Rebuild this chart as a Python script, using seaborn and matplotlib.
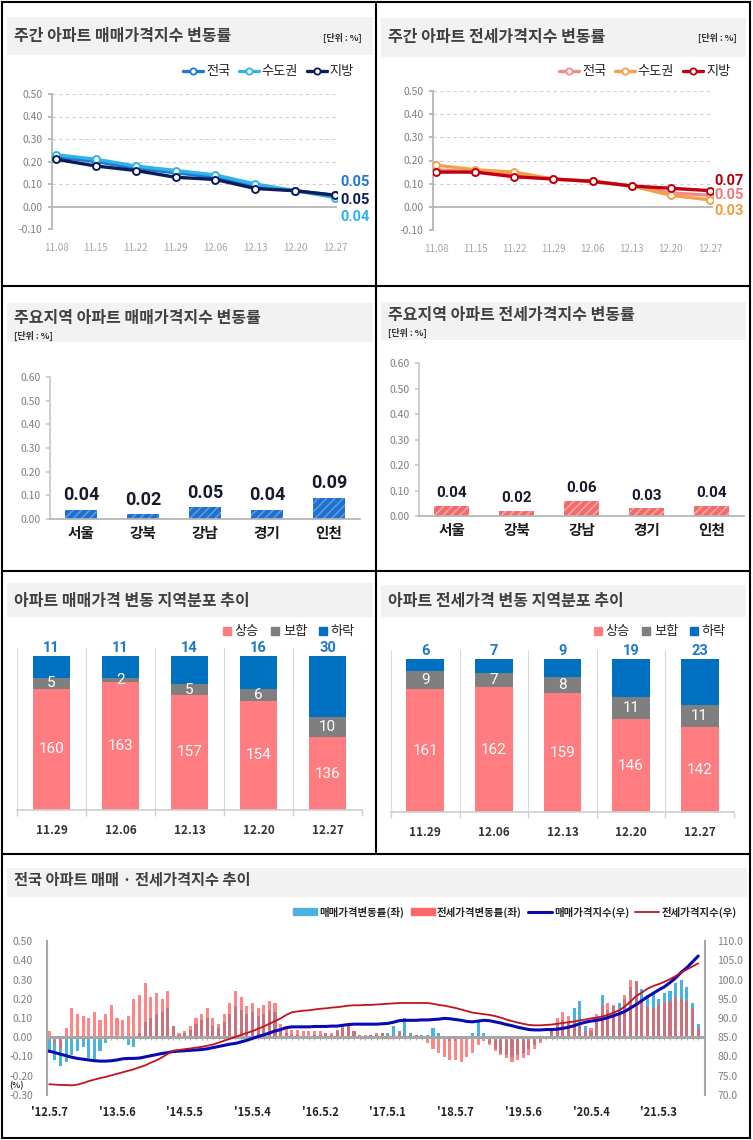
import numpy as np
import pandas as pd
import matplotlib
matplotlib.use('Agg')
import matplotlib.pyplot as plt
import seaborn as sns
from matplotlib.lines import Line2D
from matplotlib.patches import Rectangle, Patch

sns.set_theme(style='white')
plt.rcParams['font.family'] = ['Noto Sans CJK KR', 'DejaVu Sans']
plt.rcParams['hatch.linewidth'] = 1.2
plt.rcParams['axes.unicode_minus'] = False

W, H = 753, 1140
NARROW = dict(family=['Roboto', 'DejaVu Sans'])

# ---- data ----
weeks = ['11.08', '11.15', '11.22', '11.29', '12.06', '12.13', '12.20', '12.27']
sale_regions = ['전국', '수도권', '지방']
sale_nation = [0.22, 0.20, 0.17, 0.15, 0.13, 0.09, 0.07, 0.05]
sale_metro = [0.23, 0.21, 0.18, 0.16, 0.14, 0.10, 0.07, 0.04]
sale_local = [0.21, 0.18, 0.16, 0.13, 0.12, 0.08, 0.07, 0.05]
jeonse_nation = [0.16, 0.15, 0.14, 0.12, 0.11, 0.09, 0.06, 0.05]
jeonse_metro = [0.18, 0.16, 0.15, 0.12, 0.11, 0.09, 0.05, 0.03]
jeonse_local = [0.15, 0.15, 0.13, 0.12, 0.11, 0.09, 0.08, 0.07]

areas = ['서울', '강북', '강남', '경기', '인천']
area_sale = [0.04, 0.02, 0.05, 0.04, 0.09]
area_jeonse = [0.04, 0.02, 0.06, 0.03, 0.04]

dist_weeks = ['11.29', '12.06', '12.13', '12.20', '12.27']
dist_base = 100  # the distribution charts' value axis starts at 100 regions
sale_up = [160, 163, 157, 154, 136]
sale_flat = [5, 2, 5, 6, 10]
sale_down = [11, 11, 14, 16, 30]
jeonse_up = [161, 162, 159, 146, 142]
jeonse_flat = [9, 7, 8, 11, 11]
jeonse_down = [6, 7, 9, 19, 23]

# monthly series, 2012.5 ~ 2021.12
year_ticks = ["'12.5.7", "'13.5.6", "'14.5.5", "'15.5.4", "'16.5.2",
              "'17.5.1", "'18.5.7", "'19.5.6", "'20.5.4", "'21.5.3"]
sale_chg = [-0.08, -0.12, -0.15, -0.13, -0.09, -0.07, -0.05, -0.11, -0.12, -0.07, -0.03, -0.01,
            0.00, 0.00, -0.04, -0.05, 0.02, 0.08, 0.10, 0.12, 0.13, 0.15, 0.06, 0.01,
            0.02, 0.04, 0.07, 0.09, 0.10, 0.06, 0.05, 0.08, 0.12, 0.16, 0.14, 0.12,
            0.13, 0.11, 0.12, 0.14, 0.13, 0.04, 0.02, 0.01, 0.01, 0.00, -0.01, 0.01,
            0.01, 0.02, 0.01, 0.03, 0.05, 0.07, 0.03, 0.01, 0.00, 0.01, 0.01, 0.02,
            0.02, 0.06, 0.03, 0.10, 0.02, 0.01, 0.01, 0.01, 0.05, 0.02, -0.01, -0.02,
            -0.02, -0.01, -0.01, 0.02, 0.08, 0.02, -0.03, -0.06, -0.08, -0.09, -0.10, -0.09,
            -0.08, -0.06, -0.04, -0.02, 0.00, 0.04, 0.07, 0.09, 0.08, 0.15, 0.19, 0.06,
            0.03, 0.10, 0.22, 0.14, 0.16, 0.18, 0.20, 0.26, 0.29, 0.25, 0.22, 0.23,
            0.20, 0.23, 0.24, 0.28, 0.30, 0.26, 0.18, 0.07]
jeonse_chg = [0.03, -0.03, -0.06, 0.05, 0.15, 0.12, 0.11, 0.10, 0.13, 0.09, 0.12, 0.17,
              0.10, 0.09, 0.11, 0.20, 0.22, 0.28, 0.21, 0.23, 0.20, 0.24, 0.06, 0.02,
              0.03, 0.06, 0.10, 0.12, 0.15, 0.10, 0.07, 0.12, 0.18, 0.24, 0.21, 0.16,
              0.18, 0.15, 0.17, 0.19, 0.18, 0.07, 0.05, 0.04, 0.04, 0.03, 0.03, 0.03,
              0.03, 0.02, 0.02, 0.04, 0.06, 0.06, 0.03, 0.01, 0.01, 0.01, 0.02, 0.02,
              0.01, 0.01, 0.02, 0.01, 0.01, 0.01, -0.01, -0.03, -0.06, -0.08, -0.10, -0.12,
              -0.12, -0.13, -0.10, -0.08, -0.04, -0.02, -0.04, -0.07, -0.09, -0.11, -0.13, -0.12,
              -0.11, -0.09, -0.06, -0.03, -0.01, 0.05, 0.10, 0.13, 0.11, 0.08, 0.06, 0.03,
              0.05, 0.12, 0.16, 0.18, 0.17, 0.13, 0.22, 0.30, 0.29, 0.20, 0.16, 0.15,
              0.17, 0.18, 0.19, 0.21, 0.20, 0.19, 0.15, 0.05]
sale_idx = [81.4, 81.0, 80.6, 80.2, 79.8, 79.5, 79.3, 79.1, 78.9, 78.8, 78.8, 78.9,
            79.1, 79.4, 79.5, 79.5, 79.6, 79.9, 80.2, 80.5, 80.8, 81.0, 81.3, 81.4,
            81.5, 81.6, 81.7, 81.8, 82.0, 82.3, 82.6, 82.9, 83.2, 83.4, 83.8, 84.2,
            84.7, 85.2, 85.6, 86.1, 86.6, 87.0, 87.5, 87.7, 87.7, 87.7, 87.7, 87.8,
            87.8, 87.8, 87.9, 87.9, 88.1, 88.3, 88.4, 88.4, 88.4, 88.4, 88.4, 88.5,
            88.6, 88.9, 89.3, 89.4, 89.4, 89.4, 89.5, 89.5, 89.6, 89.7, 89.9, 89.8,
            89.6, 89.4, 89.1, 89.0, 89.2, 89.4, 89.3, 89.0, 88.7, 88.3, 88.0, 87.6,
            87.3, 87.0, 86.9, 86.9, 87.0, 87.0, 87.1, 87.3, 87.6, 88.0, 88.5, 88.9,
            89.2, 89.4, 89.7, 90.1, 90.6, 91.1, 91.7, 92.6, 93.5, 94.5, 95.5, 96.4,
            97.3, 98.1, 99.2, 100.4, 101.9, 103.1, 104.6, 106.1]
jeonse_idx = [72.8, 72.7, 72.6, 72.6, 72.5, 72.7, 73.1, 73.6, 74.0, 74.4, 74.7, 75.1,
              75.5, 75.9, 76.3, 76.7, 77.2, 77.7, 78.4, 79.0, 79.8, 80.7, 81.5, 81.7,
              81.9, 82.1, 82.3, 82.5, 82.8, 83.1, 83.6, 84.1, 84.6, 85.1, 85.6, 86.1,
              86.6, 87.2, 87.8, 88.5, 89.2, 89.9, 90.8, 91.5, 91.7, 91.9, 92.0, 92.2,
              92.4, 92.5, 92.7, 92.8, 93.0, 93.2, 93.3, 93.3, 93.4, 93.4, 93.5, 93.6,
              93.7, 93.8, 93.9, 93.9, 93.9, 93.9, 93.9, 93.9, 93.7, 93.4, 93.2, 92.9,
              92.6, 92.2, 91.8, 91.4, 91.2, 91.0, 90.8, 90.5, 90.1, 89.6, 89.2, 88.8,
              88.5, 88.2, 88.1, 88.1, 88.2, 88.3, 88.5, 88.7, 88.9, 89.1, 89.4, 89.6,
              89.9, 90.1, 90.4, 90.8, 91.4, 92.0, 93.0, 94.3, 95.7, 96.6, 97.6, 98.3,
              98.8, 99.4, 100.1, 100.9, 101.8, 102.6, 103.4, 104.2]

fig = plt.figure(figsize=(W / 100, H / 100), dpi=100)


def add_ax(l, t, r, b):
    ax = fig.add_axes([l / W, 1 - b / H, (r - l) / W, (b - t) / H])
    ax.set_facecolor('none')
    for s in ax.spines.values():
        s.set_visible(False)
    return ax


def ftext(x, y, s, **kw):
    return fig.text(x / W, 1 - y / H, s, **kw)


def title_bar(l, t, r, b, title, tx, ty, size=11.5):
    fig.add_artist(Rectangle((l / W, 1 - b / H), (r - l) / W, (b - t) / H,
                             transform=fig.transFigure, facecolor='#f2f2f2',
                             edgecolor='none', zorder=0))
    ftext(tx, ty, title, fontsize=size, fontweight='bold', color='#404040',
          ha='left', va='center')


def unit(x, y, ha):
    ftext(x, y, '[단위 : %]', fontsize=6.5, fontweight='bold', color='#333333',
          ha=ha, va='center')


def border(x0, y0, x1, y1):
    fig.add_artist(Line2D([x0 / W, x1 / W], [1 - y0 / H, 1 - y1 / H],
                          transform=fig.transFigure, color='black', lw=1.5))


# ---- weekly line panels ----
def weekly_panel(box, xlim, values, colors, lab_colors, offsets, legend_xy):
    ax = add_ax(*box)
    pos = np.arange(len(weeks))
    for vals, c in zip(values, colors):
        sns.lineplot(x=pos, y=vals, color=c, marker='o', markersize=5,
                     markerfacecolor='white', markeredgecolor=c,
                     markeredgewidth=1.4, linewidth=2.4, ax=ax, zorder=3)
    for vals, c, (dx, dy) in zip(values, lab_colors, offsets):
        ax.annotate(f'{vals[-1]:.2f}', xy=(pos[-1], vals[-1]), xytext=(dx, dy),
                    textcoords='offset pixels', ha='left', va='center',
                    fontsize=10.5, fontweight='bold', color=c, annotation_clip=False,
                    **NARROW)
    yt = [-0.1, 0, 0.1, 0.2, 0.3, 0.4, 0.5]
    ax.set_ylim(-0.1, 0.5)
    ax.set_xlim(*xlim)
    ax.set_yticks(yt)
    ax.set_yticklabels([f'{v:.2f}' for v in yt])
    ax.set_xticks(pos)
    ax.set_xticklabels(weeks)
    for v in yt:
        if v == 0:
            ax.axhline(0, color='#b4b4b4', lw=1.3, zorder=1)
        else:
            ax.axhline(v, color='#cfcfcf', lw=0.8, ls=(0, (3, 3)), zorder=1)
    ax.spines['left'].set_visible(True)
    ax.spines['left'].set_color('#b4b4b4')
    ax.tick_params(axis='y', left=True, length=3, color='#b4b4b4', pad=4,
                   labelsize=7.5, labelcolor='#7f7f7f')
    ax.tick_params(axis='x', length=0, pad=10, labelsize=7, labelcolor='#a6a6a6')
    ax.set_xlabel('')
    ax.set_ylabel('')
    handles = [Line2D([], [], color=c, lw=2.4, marker='o', markersize=4.5,
                      markerfacecolor='white', markeredgecolor=c, markeredgewidth=1.3)
               for c in colors]
    fig.legend(handles, sale_regions, loc='center right',
               bbox_to_anchor=(legend_xy[0] / W, 1 - legend_xy[1] / H),
               ncol=3, frameon=False, fontsize=9.5, handlelength=1.5,
               handletextpad=0.2, columnspacing=0.7)
    return ax


title_bar(7, 17, 373, 55, '주간 아파트 매매가격지수 변동률', 14, 36)
unit(362, 38, 'right')
weekly_panel((52, 94, 337, 229), (-0.1, 7.05),
             [sale_nation, sale_metro, sale_local],
             ['#1f78cc', '#2fb3e8', '#0b1b5c'],
             ['#1f78cc', '#2fb3e8', '#0b1b5c'],
             [(5, 13), (5, -19), (5, -5)], (366, 72))

title_bar(381, 18, 746, 57, '주간 아파트 전세가격지수 변동률', 388, 37)
unit(737, 38, 'right')
weekly_panel((433, 91, 713, 230), (-0.08, 7.08),
             [jeonse_nation, jeonse_metro, jeonse_local],
             ['#f28b8b', '#f3a04c', '#c00010'],
             ['#f07a7a', '#f0a040', '#b00010'],
             [(5, 0), (5, -11), (5, 10)], (742, 72))


# ---- major area bar panels ----
def area_panel(box, values, color, hatch_color, lab_size):
    ax = add_ax(*box)
    sns.barplot(x=areas, y=values, color=color, saturation=1, width=0.53,
                hatch='////', edgecolor=hatch_color, linewidth=0, ax=ax)
    ax.bar_label(ax.containers[0], labels=[f'{v:.2f}' for v in values], padding=4,
                 fontsize=lab_size, fontweight='bold', color='#161a2a', **NARROW)
    ax.set_ylim(0, 0.6)
    ax.set_xlim(-0.5, 4.5)
    yt = [0, 0.1, 0.2, 0.3, 0.4, 0.5, 0.6]
    ax.set_yticks(yt)
    ax.set_yticklabels([f'{v:.2f}' for v in yt])
    ax.spines['left'].set_visible(True)
    ax.spines['bottom'].set_visible(True)
    ax.spines['left'].set_color('#c8c8c8')
    ax.spines['bottom'].set_color('#b4b4b4')
    ax.tick_params(axis='y', left=True, length=3, color='#c8c8c8', pad=4,
                   labelsize=7.5, labelcolor='#7f7f7f')
    ax.tick_params(axis='x', length=0, pad=4, labelsize=10.5, labelcolor='#1a1a1a')
    for t in ax.get_xticklabels():
        t.set_fontweight('bold')
    ax.set_xlabel('')
    ax.set_ylabel('')


title_bar(7, 303, 373, 342, '주요지역 아파트 매매가격지수 변동률', 14, 318)
unit(14, 336, 'left')
area_panel((50, 377, 360, 519), area_sale, '#1f6fcc', '#5c9ae0', 13)

title_bar(381, 302, 746, 340, '주요지역 아파트 전세가격지수 변동률', 388, 315)
unit(388, 333, 'left')
area_panel((419, 363, 744, 516), area_jeonse, '#f46a6a', '#f9a6a6', 11)


# ---- distribution stacked panels ----
def dist_panel(box, ytop, up, flat, down, legend_xy):
    ax = add_ax(*box)
    total = [u + f + d for u, f, d in zip(up, flat, down)]
    upflat = [u + f for u, f in zip(up, flat)]
    sns.barplot(x=dist_weeks, y=total, color='#0070c0', saturation=1, width=0.55,
                linewidth=0, ax=ax)
    sns.barplot(x=dist_weeks, y=upflat, color='#7f7f7f', saturation=1, width=0.55,
                linewidth=0, ax=ax)
    sns.barplot(x=dist_weeks, y=up, color='#ff7c80', saturation=1, width=0.55,
                linewidth=0, ax=ax)
    ax.bar_label(ax.containers[0], labels=[str(d) for d in down], padding=1,
                 fontsize=10.5, fontweight='bold', color='#1f78c8', **NARROW)
    for i, (u, f) in enumerate(zip(up, flat)):
        ax.text(i, u + f / 2, str(f), ha='center', va='center', fontsize=11,
                color='white', **NARROW)
        ax.text(i, (dist_base + u) / 2, str(u), ha='center', va='center',
                fontsize=11, color='white', **NARROW)
    ax.set_ylim(dist_base, ytop)
    ax.set_xlim(-0.5, 4.5)
    ax.set_yticks([])
    ax.set_xticks(np.arange(-0.5, 5, 1), minor=True)
    ax.grid(which='minor', axis='x', color='#d9d9d9', lw=0.8)
    ax.spines['bottom'].set_visible(True)
    ax.spines['bottom'].set_color('#d0d0d0')
    ax.tick_params(axis='x', which='minor', bottom=True, length=4, color='#d0d0d0')
    ax.tick_params(axis='x', which='major', length=0, pad=10, labelsize=8.5,
                   labelcolor='#333333')
    for t in ax.get_xticklabels():
        t.set_fontweight('bold')
    ax.set_xlabel('')
    ax.set_ylabel('')
    handles = [Patch(color='#ff7c80'), Patch(color='#7f7f7f'), Patch(color='#0070c0')]
    fig.legend(handles, ['상승', '보합', '하락'], loc='center right',
               bbox_to_anchor=(legend_xy[0] / W, 1 - legend_xy[1] / H),
               ncol=3, frameon=False, fontsize=9.5, handlelength=0.6,
               handleheight=0.6, handletextpad=0.3, columnspacing=0.9)


title_bar(7, 583, 373, 617, '아파트 매매가격 변동 지역분포 추이', 14, 601)
dist_panel((17, 648, 362, 810), 180, sale_up, sale_flat, sale_down, (367, 632))

title_bar(381, 585, 746, 617, '아파트 전세가격 변동 지역분포 추이', 388, 601)
dist_panel((391, 650, 734, 812), 180.5, jeonse_up, jeonse_flat, jeonse_down, (738, 632))


# ---- long-term chart ----
title_bar(7, 868, 747, 897, '전국 아파트 매매 · 전세가격지수 추이', 14, 880, size=11)
months = np.arange(len(sale_chg))
ax7 = add_ax(47, 941, 705, 1095)
ax7.bar(months, sale_chg, width=0.55, color='#4ab2e0', linewidth=0, zorder=2)
ax7.bar(months, jeonse_chg, width=0.55, color='#ff5858', alpha=0.72, linewidth=0, zorder=2)
ax7.axhline(0, color='#a6a6a6', lw=2.2, zorder=3)
ax7.vlines(months, -0.012, 0, color='#a6a6a6', lw=0.7, zorder=3)
ax7.set_ylim(-0.3, 0.5)
ax7.set_xlim(-0.4, 116.2)
yt = [-0.3, -0.2, -0.1, 0, 0.1, 0.2, 0.3, 0.4, 0.5]
ax7.set_yticks(yt)
ax7.set_yticklabels([f'{v:.2f}' for v in yt])
ax7.set_xticks(np.arange(0, 120, 12))
ax7.set_xticklabels(year_ticks)
for t in ax7.get_xticklabels():
    t.set_fontweight('bold')
ax7.spines['left'].set_visible(True)
ax7.spines['left'].set_color('#a6a6a6')
ax7.spines['left'].set_linewidth(1.5)
ax7.tick_params(axis='y', length=0, pad=10, labelsize=7.5, labelcolor='#7f7f7f')
ax7.tick_params(axis='x', length=0, pad=8, labelsize=8, labelcolor='#222222')

ax8 = ax7.twinx()
for s in ax8.spines.values():
    s.set_visible(False)
ax8.spines['right'].set_visible(True)
ax8.spines['right'].set_color('#a6a6a6')
ax8.spines['right'].set_linewidth(1.5)
sns.lineplot(x=months, y=sale_idx, color='#0a0ab4', linewidth=2.2, ax=ax8)
sns.lineplot(x=months, y=jeonse_idx, color='#c0141e', linewidth=1.3, ax=ax8)
rt = [70, 75, 80, 85, 90, 95, 100, 105, 110]
ax8.set_ylim(70, 110)
ax8.set_yticks(rt)
ax8.set_yticklabels([f'{v:.1f}' for v in rt])
ax8.tick_params(axis='y', length=0, pad=9, labelsize=7.5, labelcolor='#7f7f7f')
ax8.set_ylabel('')
ax8.grid(False)
ax7.grid(False)

ftext(17, 1086, '(%)', fontsize=6, fontweight='bold', color='#333333', ha='center', va='center')

handles = [Patch(color='#4ab2e0'), Patch(color='#ff6666'),
           Line2D([], [], color='#0a0ab4', lw=2.2), Line2D([], [], color='#c0141e', lw=1.3)]
fig.legend(handles, ['매매가격변동률(좌)', '전세가격변동률(좌)', '매매가격지수(우)', '전세가격지수(우)'],
           loc='center right', bbox_to_anchor=(746 / W, 1 - 912 / H), ncol=4,
           frameon=False, prop={'size': 7.5, 'weight': 'bold'}, handlelength=2.3,
           handleheight=0.6, handletextpad=0.2, columnspacing=0.6)

# ---- borders ----
border(2, 2, 750, 2)
border(2, 1138, 750, 1138)
border(2, 2, 2, 1138)
border(750, 2, 750, 1138)
border(376, 2, 376, 854)
border(2, 286, 750, 286)
border(2, 571, 750, 571)
border(2, 854, 750, 854)

fig.savefig('out.png', dpi=100)
